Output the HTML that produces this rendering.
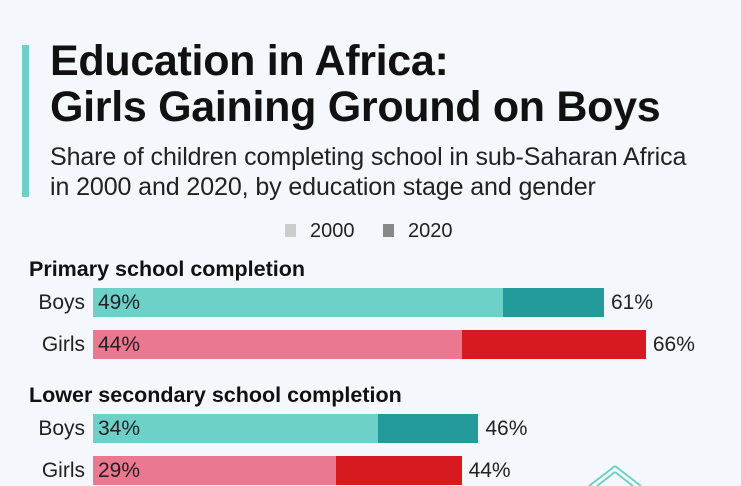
<!DOCTYPE html>
<html><head><meta charset="utf-8"><style>
body{margin:0;width:741px;height:486px;overflow:hidden;background:#f4f7fb;font-family:"Liberation Sans",sans-serif;position:relative;color:#111}
.abs{position:absolute;white-space:nowrap}
</style></head><body>
<div class="abs" style="left:22px;top:45px;width:7px;height:152px;background:#6dd0c9"></div>
<div class="abs" style="left:50px;top:38px;font-size:43px;font-weight:bold;line-height:46px;letter-spacing:-0.3px">Education in Africa:<br>Girls Gaining Ground on Boys</div>
<div class="abs" style="left:50px;top:142px;font-size:25px;line-height:30px;color:#222;letter-spacing:-0.1px">Share of children completing school in sub-Saharan Africa<br>in 2000 and 2020, by education stage and gender</div>
<div class="abs" style="left:285px;top:221px;font-size:20px;line-height:20px;color:#222"><span style="display:inline-block;width:11px;height:13px;background:#ccc;margin-right:14px;vertical-align:0px"></span>2000</div>
<div class="abs" style="left:383px;top:221px;font-size:20px;line-height:20px;color:#222"><span style="display:inline-block;width:11px;height:13px;background:#888;margin-right:14px;vertical-align:0px"></span>2020</div>
<div id="chart"></div>
<svg class="abs" style="left:585px;top:462px" width="60" height="24"><path d="M30 4 L56 24 M30 4 L4 24 M30 10 L48 24 M30 10 L12 24" stroke="#6dd0c9" stroke-width="2" fill="none"/></svg>
<script>
const groups=["Primary school completion","Lower secondary school completion"];
const genders=["Boys","Girls"];
const values2000=[[49,44],[34,29]];
const values2020=[[61,66],[46,44]];
const colors={Boys:["#6dd0c9","#239b9a"],Girls:["#e97890","#d71920"]};
const x0=93, scale=(604-93)/61;
const xs=v=>v*scale;
const c=document.getElementById('chart');
function add(html){const d=document.createElement('div');d.className='abs';d.innerHTML=html;c.appendChild(d);return d;}
groups.forEach((g,gi)=>{
  const gy=257+gi*126;
  const t=add(g);
  
  
  t.style.cssText+=`left:29px;top:${gy}px;font-size:21.5px;font-weight:bold;`;
  genders.forEach((s,si)=>{
    const y=gy+31+si*42;
    const v1=values2000[gi][si],v2=values2020[gi][si];
    const lab=add(s);
    
    
    lab.style.cssText+=`right:${741-85}px;top:${y+3}px;font-size:21px;color:#222;`;
    const b2=add('');
    
    
    b2.style.cssText+=`left:${x0}px;top:${y}px;width:${xs(v2)}px;height:29px;background:${colors[s][1]};`;
    const b1=add('');
    
    
    b1.style.cssText+=`left:${x0}px;top:${y}px;width:${xs(v1)}px;height:29px;background:${colors[s][0]};`;
    const l1=add(v1+'%');
    
    
    l1.style.cssText+=`left:${x0+5}px;top:${y+3}px;font-size:21px;color:#222;`;
    const l2=add(v2+'%');
    
    
    l2.style.cssText+=`left:${x0+xs(v2)+7}px;top:${y+3}px;font-size:21px;color:#222;`;
  });
});
</script>
</body></html>
